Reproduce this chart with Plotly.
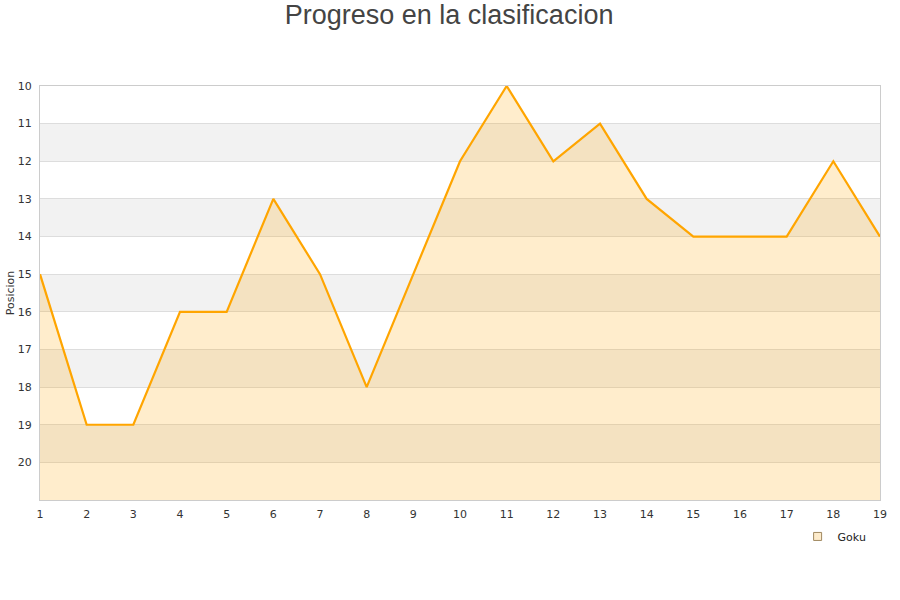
import plotly.graph_objects as go

jornadas = list(range(1, 20))
posicion = [15, 19, 19, 16, 16, 13, 15, 18, 15, 12, 10, 12, 11, 13, 14, 14, 14, 12, 14]
y_ticks = list(range(10, 21))
y_min, y_max = 10, 21

fig = go.Figure()

# baseline for fill (bottom of the axis)
fig.add_trace(go.Scatter(x=jornadas, y=[y_max] * len(jornadas), mode="lines",
                         line=dict(width=0, color="rgba(0,0,0,0)"), showlegend=False,
                         hoverinfo="skip"))
fig.add_trace(go.Scatter(x=jornadas, y=posicion, mode="lines", name="Goku",
                         line=dict(color="#FFA500", width=2.2),
                         fill="tonexty", fillcolor="rgba(255,165,0,0.2)",
                         showlegend=False))
# legend entry
fig.add_trace(go.Scatter(x=[None], y=[None], mode="markers", name="Goku",
                         marker=dict(symbol="square", size=8, color="#FDEBCB",
                                     line=dict(color="#A08860", width=1))))

shapes = []
for v in range(y_min, y_max):
    if v % 2 == 1:
        shapes.append(dict(type="rect", xref="paper", yref="y", x0=0, x1=1, y0=v, y1=v + 1,
                           fillcolor="#F2F2F2", line=dict(width=0), layer="below"))

fig.update_layout(
    width=900, height=600,
    margin=dict(l=40, r=20, t=86, b=100, autoexpand=False),
    paper_bgcolor="white", plot_bgcolor="white",
    title=dict(text="Progreso en la clasificacion", x=0.499, xanchor="center", y=0.975,
               yanchor="middle", font=dict(family="Liberation Sans, Arial", size=27, color="#444")),
    font=dict(family="DejaVu Sans", size=11, color="#333"),
    shapes=shapes,
    showlegend=True,
    legend=dict(orientation="h", x=0.99, xanchor="right", y=-0.053, yanchor="top",
                font=dict(size=11, color="#222"), bgcolor="rgba(0,0,0,0)"),
    xaxis=dict(range=[1, 19], tickmode="array", tickvals=jornadas, showgrid=False,
               showline=True, linecolor="#CCCCCC", mirror=True, ticks="", zeroline=False,
               automargin=False, ticklabelstandoff=4, tickfont=dict(size=11, color="#333")),
    yaxis=dict(range=[y_max, y_min], tickmode="array", tickvals=y_ticks,
               showgrid=True, gridcolor="#DDDDDD", gridwidth=1,
               showline=True, linecolor="#CCCCCC", mirror=True, ticks="", zeroline=False,
               automargin=False, ticklabelstandoff=5,
               title=dict(text="Posicion", font=dict(size=11, color="#333"), standoff=0),
               tickfont=dict(size=11, color="#333")),
)

fig.write_html("out.html", config={"displayModeBar": False},
               post_script="document.body.style.margin='0';")
